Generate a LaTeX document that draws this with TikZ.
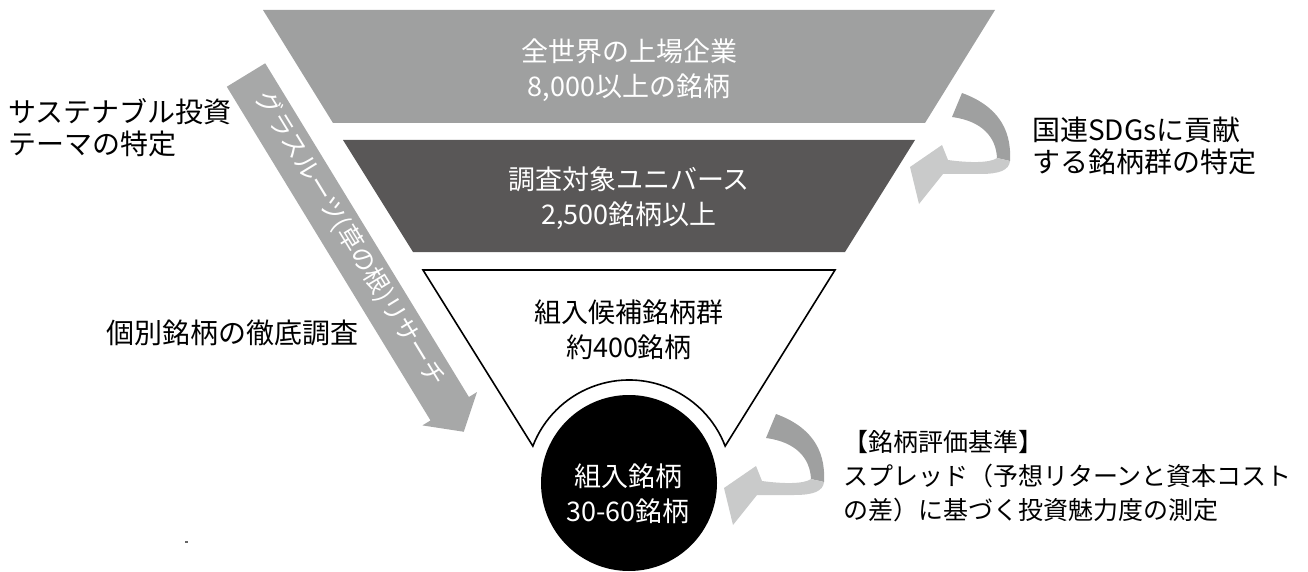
\documentclass[tikz,border=0pt]{standalone}
\usepackage{fontspec}
\setmainfont{Noto Sans CJK JP}
\usepackage{tikz}
\definecolor{stagegray}{HTML}{9FA0A0}
\definecolor{stagedark}{HTML}{595757}
\definecolor{bandgray}{HTML}{A7A8A8}
\definecolor{foldgray}{HTML}{C9CACA}
\tikzset{stagetext/.style={text=white, align=center, font=\fontsize{27}{35}\selectfont},
  sidetext/.style={anchor=west, align=left, inner sep=0pt, font=\fontsize{28}{32}\selectfont},
  bandtext/.style={text=white, font=\fontsize{25}{28}\selectfont},
  turnarrow/.pic={
    \fill[stagegray] (52,-74) .. controls (85,-62) and (102,-40) .. (100,-6) -- (87,-9) .. controls (86,-30) and (72,-46) .. (42,-50) -- cycle;
    \fill[foldgray] (100,-6) .. controls (99,3) and (90,7) .. (70,7) -- (33,7) -- (9,37) -- (0,0) -- (32,-22) -- (38,-7) .. controls (60,-4) and (80,-4) .. (87,-9) -- cycle;
  }}

\begin{document}
\begin{tikzpicture}[x=1pt, y=-1pt]
  \useasboundingbox (0,0) rectangle (1308,572);
  % funnel
  \fill[stagegray] (263,10) -- (995,10) -- (925,123) -- (333,123) -- cycle;
  \fill[stagedark] (343,140) -- (915,140) -- (845,252) -- (413,252) -- cycle;
  \coordinate (ctr) at (629,483);
  \draw[line width=1.6pt, fill=white] (423,270) -- (835,270) -- ([shift={(-21:103)}]ctr)
    arc[start angle=-21, end angle=-159, radius=103] -- cycle;
  \fill (ctr) circle[radius=88];

  \node[stagetext] (world) at (629,70) {全世界の上場企業\\8,000以上の銘柄};
  \node[stagetext] (universe) at (629,198) {調査対象ユニバース\\2,500銘柄以上};
  \node[stagetext, text=black] (cand) at (629,330) {組入候補銘柄群\\約400銘柄};
  \node[stagetext] (core) at (628,494) {組入銘柄\\30-60銘柄};

  % research arrow
  \begin{scope}[shift={(246,75)}, rotate=-58.6]
    \fill[bandgray] (0,-22.5) -- (391,-22.5) -- (391,-32) -- (418,0) -- (391,32) -- (391,22.5) -- (0,22.5) -- cycle;
  \end{scope}
  \node[bandtext, rotate=-58.6] (grass) at (350,239) {グラスルーツ(草の根)リサーチ};

  % turning arrows
  \pic at (910,167) {turnarrow};
  \pic at (724,488) {turnarrow};

  \node[sidetext] (theme) at (8,128) {サステナブル投資\\テーマの特定};
  \node[sidetext] (deep) at (106,333) {個別銘柄の徹底調査};
  \node[sidetext] (sdgs) at (1032,146) {国連SDGsに貢献\\する銘柄群の特定};
  \node[sidetext, font=\fontsize{25}{34}\selectfont] (spread) at (843,476)
    {【銘柄評価基準】\\スプレッド（予想リターンと資本コスト\\の差）に基づく投資魅力度の測定};
  \fill[black!60] (185,541) rectangle (188,543);
\end{tikzpicture}
\end{document}
